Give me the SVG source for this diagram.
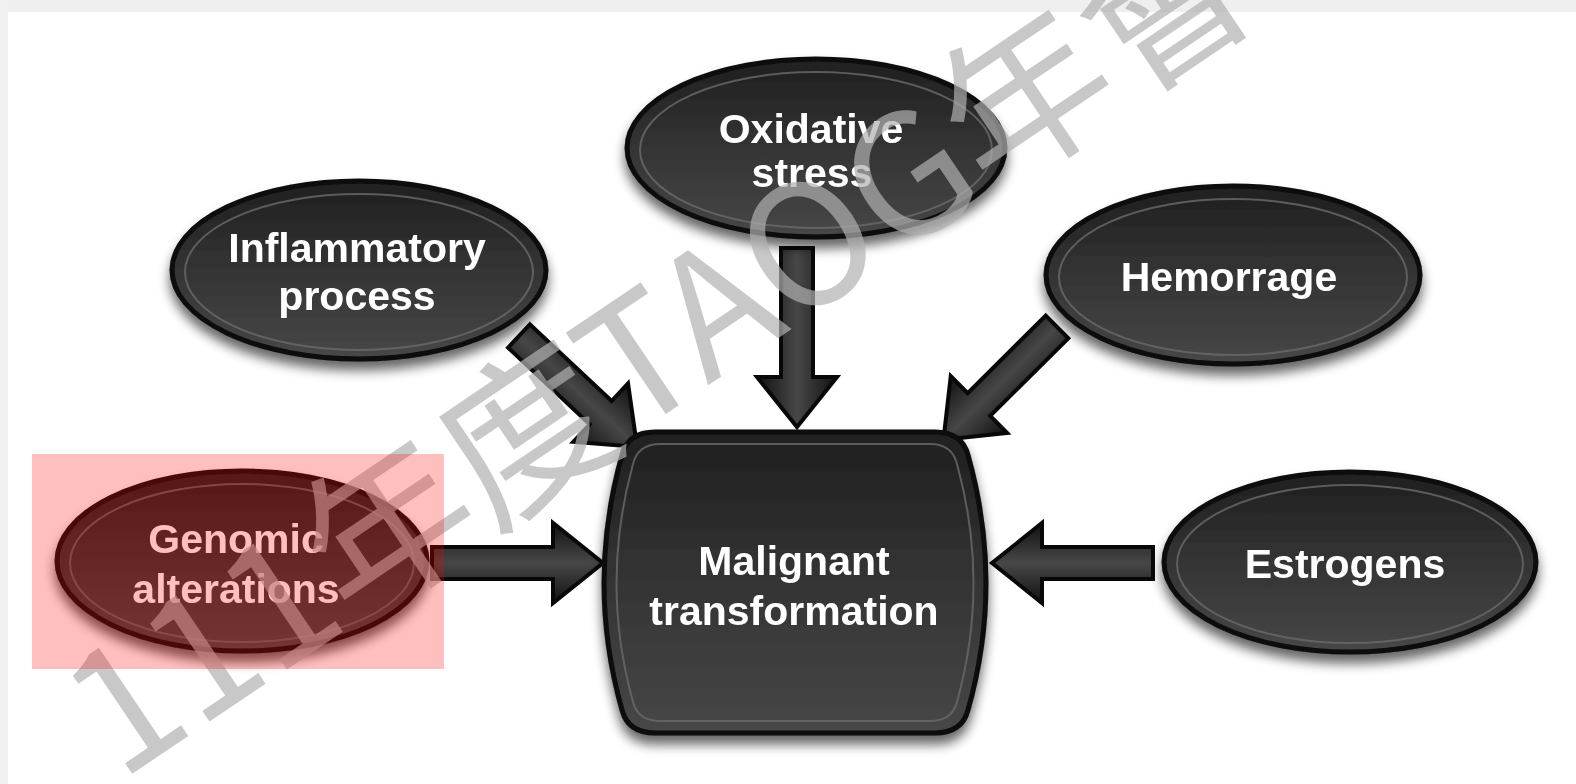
<svg xmlns="http://www.w3.org/2000/svg" width="1576" height="784" viewBox="0 0 1576 784">
<defs>
<linearGradient id="nodeFill" x1="0" y1="0" x2="0" y2="1">
<stop offset="0" stop-color="#1f1f1f"/>
<stop offset="0.5" stop-color="#343434"/>
<stop offset="1" stop-color="#474747"/>
</linearGradient>
<linearGradient id="arrowFill" x1="0" y1="0" x2="0" y2="1">
<stop offset="0" stop-color="#111"/>
<stop offset="0.5" stop-color="#474747"/>
<stop offset="1" stop-color="#111"/>
</linearGradient>
<filter id="shadow" x="-20%" y="-20%" width="140%" height="150%">
<feGaussianBlur in="SourceAlpha" stdDeviation="6"/>
<feOffset dx="0" dy="9" result="b"/>
<feComponentTransfer><feFuncA type="linear" slope="0.6"/></feComponentTransfer>
<feMerge><feMergeNode/><feMergeNode in="SourceGraphic"/></feMerge>
</filter>
</defs>
<style>
.node{fill:url(#nodeFill);stroke:#0a0a0a;stroke-width:5;}
.ring{fill:none;stroke:#6a6a6a;stroke-width:2;opacity:0.8;}
.lbl{font-family:"Liberation Sans",Arial,sans-serif;font-weight:bold;font-size:41px;fill:#fff;text-anchor:middle;}
.arrow{fill:url(#arrowFill);stroke:#080808;stroke-width:4;stroke-linejoin:miter;}
.wm{font-family:"Noto Sans CJK TC","Noto Sans",sans-serif;font-size:168px;fill:#b1b1b1;fill-opacity:0.7;}
</style>
<rect x="0" y="0" width="1576" height="784" fill="#fff"/>
<rect x="0" y="0" width="1576" height="12" fill="#efefef"/>
<rect x="0" y="0" width="8" height="784" fill="#f0f0f0"/>

<g id="connectors">
<path class="arrow" transform="translate(519,336) rotate(43.2)" d="M0,-16 L112,-16 L112,-40 L162,0 L112,40 L112,16 L0,16 Z"/>
<path class="arrow" transform="translate(797,248) rotate(90)" d="M0,-16 L129,-16 L129,-40 L179,0 L129,40 L129,16 L0,16 Z"/>
<path class="arrow" transform="translate(1057,327) rotate(135.2)" d="M0,-16 L110,-16 L110,-40 L160,0 L110,40 L110,16 L0,16 Z"/>
<path class="arrow" transform="translate(432,563)" d="M0,-16 L121,-16 L121,-40 L171,0 L121,40 L121,16 L0,16 Z"/>
<path class="arrow" transform="translate(1153,563) rotate(180)" d="M0,-16 L111,-16 L111,-40 L161,0 L111,40 L111,16 L0,16 Z"/>
</g>

<g id="node-oxidative" filter="url(#shadow)">
<ellipse class="node" cx="816" cy="148" rx="189" ry="89"/>
<ellipse class="ring" cx="816" cy="150" rx="176" ry="78"/>
<text class="lbl" x="811" y="143">Oxidative</text>
<text class="lbl" x="812" y="187">stress</text>
</g>

<g id="node-inflammatory" filter="url(#shadow)">
<ellipse class="node" cx="359" cy="270" rx="187" ry="89"/>
<ellipse class="ring" cx="359" cy="272" rx="174" ry="78"/>
<text class="lbl" x="357" y="262">Inflammatory</text>
<text class="lbl" x="357" y="310">process</text>
</g>

<g id="node-hemorrage" filter="url(#shadow)">
<ellipse class="node" cx="1233" cy="275" rx="187" ry="89"/>
<ellipse class="ring" cx="1233" cy="277" rx="174" ry="78"/>
<text class="lbl" x="1229" y="291">Hemorrage</text>
</g>

<g id="node-genomic" filter="url(#shadow)">
<ellipse class="node" cx="242" cy="561" rx="185" ry="90"/>
<ellipse class="ring" cx="242" cy="563" rx="172" ry="79"/>
<text class="lbl" x="236" y="553">Genomic</text>
<text class="lbl" x="236" y="603">alterations</text>
</g>

<g id="node-estrogens" filter="url(#shadow)">
<ellipse class="node" cx="1350" cy="562" rx="186" ry="90"/>
<ellipse class="ring" cx="1350" cy="564" rx="173" ry="79"/>
<text class="lbl" x="1345" y="578">Estrogens</text>
</g>

<g id="node-malignant" filter="url(#shadow)">
<path class="node" d="M655,432 L935,432 Q962,432 968,455 Q1004,583 968,710 Q962,733 935,733 L655,733 Q628,733 622,710 Q586,583 622,455 Q628,432 655,432 Z"/>
<path class="ring" d="M660,444 L930,444 Q952,444 957,464 Q990,583 957,702 Q952,721 930,721 L660,721 Q638,721 633,702 Q600,583 633,464 Q638,444 660,444 Z"/>
<text class="lbl" x="794" y="575">Malignant</text>
<text class="lbl" x="794" y="625">transformation</text>
</g>

<text class="wm" transform="translate(120,782) rotate(-34)">111年度TAOG年會</text>

<rect x="32" y="454" width="412" height="215" fill="#ff0000" fill-opacity="0.25"/>
</svg>
